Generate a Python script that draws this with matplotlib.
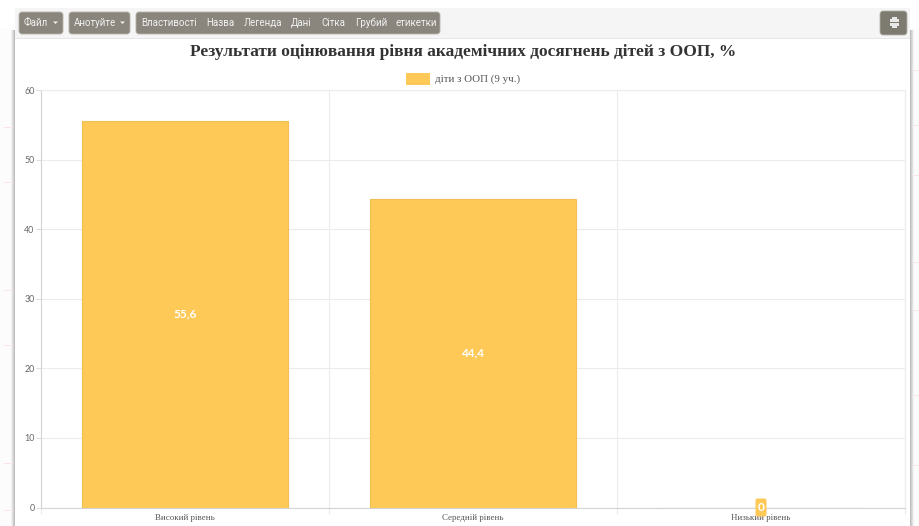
import matplotlib
matplotlib.use("Agg")
import matplotlib.pyplot as plt
from matplotlib.patches import FancyBboxPatch, Polygon, Rectangle
from matplotlib.transforms import IdentityTransform

W, H = 919, 526

title = "Результати оцінювання рівня академічних досягнень дітей з ООП, %"
legend_label = "діти з ООП (9 уч.)"
categories = ["Високий рівень", "Середній рівень", "Низький рівень"]
values = [55.6, 44.4, 0]
value_labels = ["55,6", "44,4", "0"]
yticks = [0, 10, 20, 30, 40, 50, 60]

bar_color = "#fec957"
edge_color = "#f2c050"
grid_color = "#ececec"
btn_color = "#8a867d"

fig = plt.figure(figsize=(W / 100, H / 100), dpi=100, facecolor="white")

# page chrome, drawn in pixel coordinates
bg = fig.add_axes([0, 0, 1, 1], zorder=0)
bg.set_xlim(0, W)
bg.set_ylim(H, 0)
bg.axis("off")


def rect(x, y, w, h, color, **kw):
    bg.add_patch(Rectangle((x, y), w, h, facecolor=color, edgecolor="none", **kw))


def button(x, y, w, h, color=btn_color):
    bg.add_patch(FancyBboxPatch((x + 2, y + 2), w - 4, h - 4, boxstyle="round,pad=2,rounding_size=3",
                                facecolor=color, edgecolor="#b5b2aa", linewidth=0.6))


# faint page behind the card
rect(0, 28, W, H - 28, "#fcfcfc")
for y in (127, 182, 290, 345, 463, 510):
    bg.plot([4, 12], [y, y], color="#fae6e6", lw=0.7)
for y in (70, 125, 175, 262, 310, 395, 465):
    bg.plot([914, 919], [y, y], color="#fae6e6", lw=0.7)

# card shadow
for off, col in [(4, "#f0f0f0"), (3, "#e2e2e2"), (2, "#d0d0d0"), (1, "#bdbdbd")]:
    rect(15 - off, 30, 895 + 2 * off, H - 30, col)
rect(15, 8, 895, H - 8, "white")
rect(15, 8, 895, 30, "#f5f5f5")
rect(15, 38, 895, 1, "#e6e6e6")

button(19, 12, 44, 22)
button(69, 12, 61, 22)
button(136, 12, 304, 22)
button(880, 11, 27, 24, "#7d7a70")

toolbar = [(24, "Файл"), (74, "Анотуйте"), (141, "Властивості"), (206, "Назва"), (244, "Легенда"),
           (291, "Дані"), (321, "Сітка"), (355, "Грубий"), (395, "етикетки")]
for x, label in toolbar:
    bg.text(x, 22.5, label, color="#f2f2f2", fontsize=7, family="Roboto", ha="left", va="center")
for x in (53, 120):
    bg.add_patch(Polygon([(x, 21.5), (x + 5, 21.5), (x + 2.5, 24)], facecolor="#f2f2f2", edgecolor="none"))

# printer icon
rect(890, 19, 9, 7, "#e8e8e8")
rect(892, 17, 5, 2, "#e8e8e8")
rect(892, 26, 5, 2, "#e8e8e8")
rect(889, 22, 11, 1, "#7d7a70")

bg.text(463, 52, title, fontsize=12.5, fontweight="bold", family="Liberation Serif",
        color="#333333", ha="center", va="center")

rect(406, 73, 24, 12, bar_color)
bg.text(435, 79.5, legend_label, fontsize=7.8, family="Liberation Serif", color="#555555",
        ha="left", va="center")

# chart
ax = fig.add_axes([41 / W, 1 - 507.5 / H, 864 / W, 417.5 / H], zorder=1)
ax.patch.set_alpha(0)
x = list(range(len(categories)))
bars = ax.bar(x, values, width=0.718, color=bar_color, edgecolor=edge_color, linewidth=0.8, zorder=2)

ax.set_xlim(-0.5, 2.5)
ax.set_ylim(0, 60)
ax.set_yticks(yticks)
ax.set_xticks([-0.5, 0.5, 1.5, 2.5])
ax.set_xticklabels([])
ax.grid(True, color=grid_color, linewidth=0.8, zorder=0)
ax.set_axisbelow(True)
ax.tick_params(axis="y", length=3.8, width=0.8, color="#dddddd", labelsize=6.4, labelcolor="#666666", pad=0.8)
ax.tick_params(axis="x", length=4, width=0.8, color=grid_color)
for lab in ax.get_yticklabels():
    lab.set_family("Lato")
for name, sp in ax.spines.items():
    sp.set_color("#d4d4d4" if name in ("left", "bottom") else grid_color)
    sp.set_linewidth(0.8)

for xi, cat in zip(x, categories):
    ax.annotate(cat, (xi, 0), xycoords=("data", "axes fraction"), xytext=(0, -11), textcoords="offset pixels",
                ha="center", va="center", fontsize=6.4, family="Liberation Serif", color="#555555",
                annotation_clip=False)

for xi, val, lab in zip(x, values, value_labels):
    if val > 0:
        ax.text(xi, val / 2, lab, ha="center", va="center", color="white", fontsize=8.5,
                fontweight="bold", family="Lato", zorder=3)
    else:
        # the zero label sits in a small tall tag on the axis
        cx, cy = ax.transData.transform((xi, val))
        ax.add_patch(FancyBboxPatch((cx - 3.5, cy - 7), 7, 14, boxstyle="round,pad=2,rounding_size=2",
                                    facecolor=bar_color, edgecolor="none", transform=IdentityTransform(),
                                    clip_on=False, zorder=4))
        ax.text(xi, val, lab, ha="center", va="center", color="white", fontsize=8.5, fontweight="bold",
                family="Lato", zorder=5, clip_on=False)

fig.savefig("out.png", dpi=100)
